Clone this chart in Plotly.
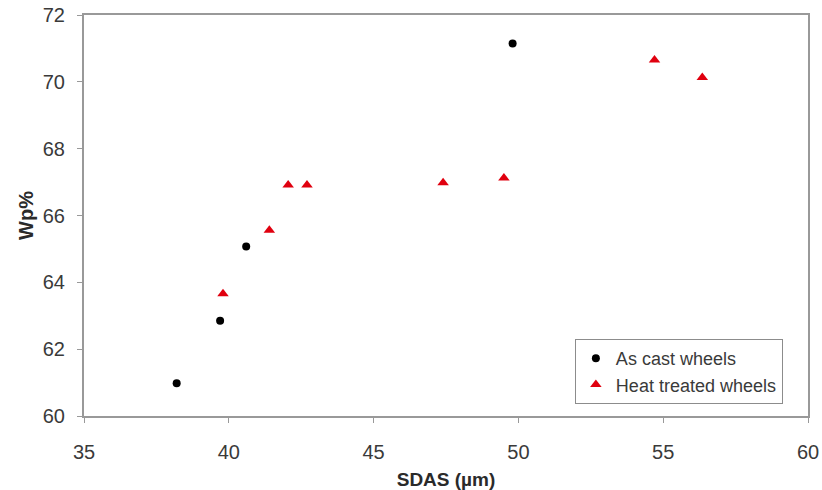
import plotly.graph_objects as go

cast_x = [38.2, 39.7, 40.6, 49.8]
cast_y = [60.98, 62.85, 65.07, 71.15]
heat_x = [39.8, 41.4, 42.05, 42.7, 47.4, 49.5, 54.7, 56.35]
heat_y = [63.66, 65.56, 66.91, 66.91, 66.98, 67.12, 70.65, 70.13]
x_ticks = [35, 40, 45, 50, 55, 60]
y_ticks = [60, 62, 64, 66, 68, 70, 72]

FONT = "Liberation Sans, Arial"

fig = go.Figure()
fig.add_trace(go.Scatter(x=cast_x, y=cast_y, mode="markers", name="As cast wheels",
                         marker=dict(symbol="circle", size=8, color="black")))
fig.add_trace(go.Scatter(x=heat_x, y=heat_y, mode="markers", name="Heat treated wheels",
                         marker=dict(symbol="triangle-up", size=10, color="#e0000f")))

axis_common = dict(showgrid=False, zeroline=False, showline=True, mirror=True, automargin=False,
                   linecolor="#999999", linewidth=2, ticks="outside", ticklen=5,
                   tickcolor="#999999", tickfont=dict(family=FONT, size=20, color="#3a3a3a"))
fig.update_xaxes(range=[35, 60], tickvals=x_ticks, ticklabelstandoff=12, **axis_common,
                 title=dict(text="<b>SDAS (µm)</b>", font=dict(family=FONT, size=19, color="#2a2a2a")))
fig.update_yaxes(range=[60, 72], tickvals=y_ticks, ticklabelstandoff=8, **axis_common,
                 title=dict(text="<b>Wp%</b>", font=dict(family=FONT, size=20, color="#2a2a2a"), standoff=4))

fig.update_layout(
    width=822, height=490,
    margin=dict(l=84, r=14, t=15, b=74),
    plot_bgcolor="white", paper_bgcolor="white",
    legend=dict(x=0.678, y=0.192, xanchor="left", yanchor="top",
                bordercolor="#8c8c8c", borderwidth=1, bgcolor="white",
                font=dict(family=FONT, size=18, color="#3a3a3a"),
                itemwidth=30, tracegroupgap=0),
    showlegend=True,
)
fig.write_html("out.html", config={"displayModeBar": False},
               post_script="document.body.style.margin='0';document.body.style.padding='0';")
